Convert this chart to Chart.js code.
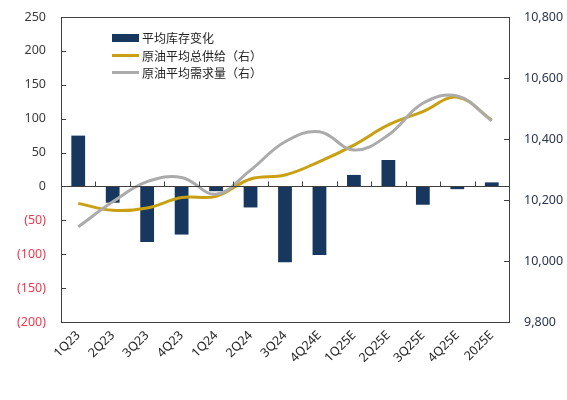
<!DOCTYPE html>
<html>
<head>
<meta charset="utf-8">
<script src="https://cdn.jsdelivr.net/npm/chart.js@4.4.1/dist/chart.umd.min.js"></script>
<style>
  body { margin: 0; background: #fff; }
  #wrap { position: relative; width: 567px; height: 400px; }
  #legenda { position: absolute; left: 112px; top: 29px; font-family: "Noto Sans CJK SC", sans-serif; font-size: 12px; color: #222; }
  .item { height: 17.5px; display: flex; align-items: center; }
  .sw { width: 27px; margin-right: 3px; }
</style>
</head>
<body>
<div id="wrap">
  <canvas id="grafico" width="567" height="400"></canvas>
  <div id="legenda">
    <div class="item"><span class="sw" style="height:8px;background:#17375e"></span>平均库存变化</div>
    <div class="item"><span class="sw" style="height:3px;background:#c9a012"></span>原油平均总供给（右）</div>
    <div class="item"><span class="sw" style="height:3px;background:#ababab"></span>原油平均需求量（右）</div>
  </div>
</div>
<script>
const categorias = ['1Q23', '2Q23', '3Q23', '4Q23', '1Q24', '2Q24', '3Q24', '4Q24E', '1Q25E', '2Q25E', '3Q25E', '4Q25E', '2025E'];
const variacaoEstoque = [75, -24, -82, -71, -7, -31, -112, -101, 17, 39, -27, -4, 6];
const ofertaTotal = [10189, 10166, 10174, 10208, 10212, 10269, 10282, 10326, 10380, 10446, 10490, 10537, 10462];
const demanda = [10112, 10194, 10260, 10274, 10219, 10298, 10391, 10424, 10364, 10413, 10517, 10541, 10460];
const ticksEsquerda = [-200, -150, -100, -50, 0, 50, 100, 150, 200, 250];
const ticksDireita = [9800, 10000, 10200, 10400, 10600, 10800];

const fonte = '"Noto Sans", "Noto Sans CJK SC", sans-serif';

// moldura, linha do zero e marcas internas
const moldura = {
    id: 'moldura',
    afterDatasetsDraw(chart) {
        const ctx = chart.ctx;
        const a = chart.chartArea;
        const x = chart.scales.x, y = chart.scales.y, y1 = chart.scales.y1;
        ctx.save();
        ctx.strokeStyle = '#404040';
        ctx.lineWidth = 1;
        ctx.strokeRect(Math.round(a.left) + 0.5, Math.round(a.top) + 0.5, Math.round(a.right - a.left), Math.round(a.bottom - a.top));
        const y0 = Math.round(y.getPixelForValue(0)) + 0.5;
        ctx.beginPath();
        ctx.moveTo(a.left, y0);
        ctx.lineTo(a.right, y0);
        for (let i = 1; i < categorias.length; i++) {
            const px = Math.round((x.getPixelForValue(i - 1) + x.getPixelForValue(i)) / 2) + 0.5;
            ctx.moveTo(px, y0);
            ctx.lineTo(px, y0 - 5);
        }
        ticksEsquerda.forEach(v => {
            const py = Math.round(y.getPixelForValue(v)) + 0.5;
            ctx.moveTo(a.left, py);
            ctx.lineTo(a.left + 5, py);
        });
        ticksDireita.forEach(v => {
            const py = Math.round(y1.getPixelForValue(v)) + 0.5;
            ctx.moveTo(a.right, py);
            ctx.lineTo(a.right - 5, py);
        });
        ctx.stroke();
        ctx.restore();
    }
};

// o padding dos ticks empurrava a área do gráfico para baixo
function ajustarEixoY(s, largura) {
    s.width = largura;
    s.paddingTop = 0;
    s.paddingBottom = 0;
}

new Chart(document.getElementById('grafico'), {
    type: 'bar',
    data: {
        labels: categorias,
        datasets: [
            {
                type: 'line',
                label: '原油平均需求量（右）',
                data: demanda,
                yAxisID: 'y1',
                borderColor: '#ababab',
                borderWidth: 3,
                pointRadius: 0,
                tension: 0.4,
                order: 1
            },
            {
                type: 'line',
                label: '原油平均总供给（右）',
                data: ofertaTotal,
                yAxisID: 'y1',
                borderColor: '#c9a012',
                borderWidth: 3,
                pointRadius: 0,
                tension: 0.4,
                order: 2
            },
            {
                label: '平均库存变化',
                data: variacaoEstoque,
                yAxisID: 'y',
                backgroundColor: '#17375e',
                barPercentage: 0.8,
                categoryPercentage: 0.5,
                order: 3
            }
        ]
    },
    options: {
        responsive: false,
        animation: false,
        layout: { padding: { top: 17 } },
        plugins: { legend: { display: false }, tooltip: { enabled: false } },
        scales: {
            x: {
                grid: { display: false, drawTicks: false },
                border: { display: false },
                afterFit: s => { s.height = 78; },
                ticks: {
                    maxRotation: 45, minRotation: 45,
                    color: '#222',
                    font: { family: fonte, size: 12.5 },
                    padding: 6
                }
            },
            y: {
                position: 'left',
                min: -200, max: 250,
                grid: { display: false, drawTicks: false },
                border: { display: false },
                afterFit: s => ajustarEixoY(s, 61),
                afterBuildTicks: s => { s.ticks = ticksEsquerda.map(v => ({ value: v })); },
                ticks: {
                    color: c => c.tick.value < 0 ? '#f0384f' : '#3a3a3a',
                    font: { family: fonte, size: 12.5 },
                    padding: 15,
                    callback: v => v < 0 ? '(' + Math.abs(v) + ')' : v
                }
            },
            y1: {
                position: 'right',
                min: 9800, max: 10800,
                grid: { display: false, drawTicks: false },
                border: { display: false },
                afterFit: s => ajustarEixoY(s, 58),
                afterBuildTicks: s => { s.ticks = ticksDireita.map(v => ({ value: v })); },
                ticks: {
                    color: '#2a3550',
                    font: { family: fonte, size: 12.5 },
                    padding: 15,
                    callback: v => v.toLocaleString('en-US')
                }
            }
        }
    },
    plugins: [moldura]
});
</script>
</body>
</html>
